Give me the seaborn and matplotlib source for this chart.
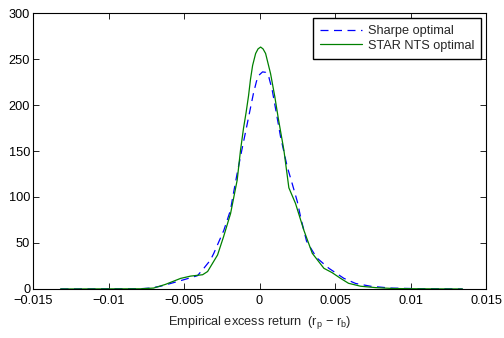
import matplotlib
matplotlib.use("Agg")
import matplotlib.pyplot as plt
import seaborn as sns
import pandas as pd

# Sharpe optimal (blue dashed)
sharpe_x = [-0.01318, -0.00788, -0.00722, -0.00656, -0.00589, -0.00503, -0.00411,
            -0.00369, -0.00325, -0.00303, -0.00236, -0.00192, -0.00181, -0.00148,
            -0.00115, -0.00081, -0.00060, -0.00040, -0.00020, 0.00000, 0.00020,
            0.00040, 0.00062, 0.00084, 0.00106, 0.00139, 0.00183, 0.00217, 0.00250,
            0.00272, 0.00311, 0.00360, 0.00382, 0.00459, 0.00558, 0.00636, 0.00735,
            0.00868, 0.01066, 0.01344]
sharpe_y = [0, 0.3, 1, 3, 6, 10, 14.5,
            22.5, 31.5, 38.8, 64, 86, 96.7, 126,
            153, 180, 197, 213, 226, 233, 236,
            235.5, 230, 216, 196, 165.5, 133, 114, 95,
            78, 52, 38.8, 33.4, 22.5, 11.6, 6, 3,
            1, 0.3, 0]

# STAR NTS optimal (green solid)
star_x = [-0.01318, -0.00788, -0.00702, -0.00623, -0.00523, -0.00457, -0.00377,
          -0.00344, -0.00278, -0.00238, -0.00192, -0.00148, -0.00126, -0.00106,
          -0.00089, -0.00073, -0.00060, -0.00046, -0.00026, -0.00010, 0.00007,
          0.00023, 0.00040, 0.00073, 0.00101, 0.00124, 0.00161, 0.00194, 0.00238,
          0.00293, 0.00349, 0.00426, 0.00481, 0.00536, 0.00589, 0.00669, 0.00768,
          0.00887, 0.01066, 0.01344]
star_y = [0, 0.2, 1, 5, 11.5, 14, 15.5,
          19, 37, 57, 82, 118.5, 151, 175,
          192, 210, 228, 243, 256, 261, 263,
          261, 256, 234, 209, 185.5, 151, 110, 93,
          64, 38.8, 22.5, 17.7, 11.6, 6.2, 3, 1.5,
          0.5, 0.2, 0]

series_names = ["Sharpe optimal", "STAR NTS optimal"]
x_ticks = [-0.015, -0.01, -0.005, 0, 0.005, 0.01, 0.015]
x_tick_labels = ["\u22120.015", "\u22120.01", "\u22120.005", "0", "0.005", "0.01", "0.015"]
y_ticks = [0, 50, 100, 150, 200, 250, 300]
y_tick_labels = ["0", "50", "100", "150", "200", "250", "300"]

sns.set_theme(style="white")
plt.rcParams['font.family'] = ['Liberation Sans', 'DejaVu Sans']
plt.rcParams['mathtext.fontset'] = 'custom'
plt.rcParams['mathtext.rm'] = 'Liberation Sans'
plt.rcParams['mathtext.it'] = 'Liberation Sans'

df_s = pd.DataFrame({"x": sharpe_x, "y": sharpe_y})
df_g = pd.DataFrame({"x": star_x, "y": star_y})

FS = 9.2

fig = plt.figure(figsize=(5.04, 3.38), dpi=100)
ax = fig.add_axes([0.0655, 0.145, 0.899, 0.8165])

sns.lineplot(data=df_s, x="x", y="y", sort=False, estimator=None, ax=ax,
             color=(0, 0, 1), linewidth=0.9, linestyle=(0, (6.4, 4.4)), label=series_names[0])
sns.lineplot(data=df_g, x="x", y="y", sort=False, estimator=None, ax=ax,
             color=(0, 0.5, 0), linewidth=0.9, label=series_names[1])

ax.set_xlim(-0.015, 0.015)
ax.set_ylim(0, 300)
ax.set_xticks(x_ticks)
ax.set_xticklabels(x_tick_labels)
ax.set_yticks(y_ticks)
ax.set_yticklabels(y_tick_labels)
ax.tick_params(direction="in", length=4, width=0.6, colors="black", labelsize=FS,
               top=True, right=True, bottom=True, left=True)
ax.tick_params(axis="x", pad=4.5)
ax.tick_params(axis="y", pad=2)
for sp in ax.spines.values():
    sp.set_color("black")
    sp.set_linewidth(0.8)
    sp.set_visible(True)
ax.set_ylabel("")
ax.set_xlabel("Empirical excess return  (r$_p$ \u2212 r$_b$)", fontsize=FS, labelpad=5)

leg = ax.legend(loc="upper right", fontsize=FS, frameon=True, fancybox=False,
                edgecolor="black", borderaxespad=0.4, handlelength=3.3,
                handletextpad=0.4, borderpad=0.55, labelspacing=0.2)
leg.get_frame().set_linewidth(1.0)
leg.get_frame().set_alpha(1)

fig.savefig("out.png", dpi=100, facecolor="white")
